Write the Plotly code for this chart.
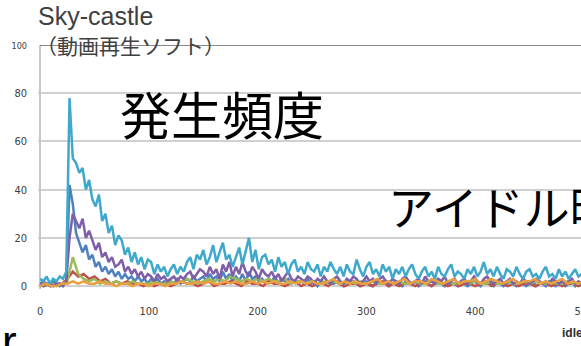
import plotly.graph_objects as go

# idle-time histogram for Sky-castle, one trace per run
x_fine = list(range(0, 511, 3))
x_coarse = list(range(0, 511, 5))

aqua = [
    3, 2, 4, 1, 3, 2, 4, 3, 6, 78,
    53, 51, 47, 49, 40, 44, 36, 33, 38, 27,
    30, 22, 25, 17, 21, 19, 13, 16, 10, 14,
    9, 12, 7, 11, 10, 5, 9, 6, 8, 4,
    7, 9, 5, 8, 6, 10, 12, 7, 13, 11,
    15, 9, 12, 17, 10, 14, 18, 11, 13, 8,
    12, 16, 9, 14, 20, 10, 15, 7, 12, 13,
    9, 11, 6, 12, 8, 10, 5, 9, 11, 6,
    8, 5, 10, 7, 6, 9, 4, 8, 6, 10,
    7, 5, 8, 4, 9, 6, 5, 11, 7, 4,
    8, 10, 5, 7, 4, 9, 6, 8, 3, 7,
    5, 8, 4, 7, 9, 5, 3, 6, 8, 4,
    6, 3, 8, 5, 4, 7, 9, 4, 6, 5,
    3, 7, 5, 8, 4, 6, 10, 5, 7, 4,
    8, 5, 3, 7, 6, 4, 8, 5, 3, 6,
    7, 4, 5, 3, 6, 8, 4, 5, 3, 7,
    4, 6, 3, 5, 7, 4, 5, 3, 6, 4,
    5,
]

purple = [
    1, 0, 1, 1, 0, 1, 1, 0, 2, 20,
    30, 27, 24, 28, 20, 23, 19, 15, 18, 12,
    14, 10, 12, 8, 9, 11, 6, 8, 5, 7,
    4, 6, 3, 5, 4, 2, 5, 3, 4, 2,
    3, 4, 2, 4, 3, 5, 6, 3, 5, 7,
    6, 4, 8, 5, 7, 3, 9, 6, 10, 4,
    8, 5, 10, 6, 4, 8, 6, 3, 7, 5,
    4, 6, 3, 5, 2, 4, 6, 3, 2, 4,
    3, 2, 4, 3, 1, 3, 2, 4, 2, 1,
    3, 4, 2, 1, 3, 2, 4, 3, 1, 2,
    4, 2, 3, 1, 3, 4, 2, 1, 3, 2,
    1, 3, 4, 2, 1, 2, 3, 1, 4, 2,
    2, 1, 3, 2, 4, 1, 2, 3, 1, 2,
    3, 1, 2, 4, 2, 1, 3, 4, 2, 1,
    2, 3, 1, 2, 3, 1, 2, 1, 3, 2,
    1, 2, 3, 2, 1, 2, 1, 3, 2, 1,
    2, 1, 2, 3, 1, 2, 1, 2, 1, 2,
    1,
]

blue = [
    1, 2, 1, 0, 2, 1, 0, 1, 2, 42,
    34, 22, 18, 14, 17, 11, 13, 8, 10, 6,
    8, 5, 7, 4, 6, 3, 5, 3, 4, 2,
    4, 2, 3, 1, 3, 2, 3, 1, 2, 1,
    2, 1, 3, 1, 2, 3, 2, 4, 2, 3,
    4, 2, 5, 3, 4, 2, 6, 3, 5, 2,
    4, 2, 5, 2, 6, 3, 4, 2, 3, 1,
    3, 2, 4, 1, 3, 2, 3, 1, 2, 1,
    2, 1, 3, 1, 2, 0, 2, 1, 2, 1,
    1, 2, 1, 0, 2, 1, 2, 1, 0, 1,
    2, 1, 0, 2, 1, 1, 2, 0, 1, 2,
    1, 0, 2, 1, 1, 2, 0, 1, 2, 1,
    0, 1, 2, 1, 0, 2, 1, 1, 0, 2,
    1, 0, 1, 2, 1, 0, 2, 1, 1, 0,
    2, 1, 0, 1, 2, 1, 0, 1, 1, 0,
    1, 2, 0, 1, 1, 0, 2, 1, 0, 1,
    1, 0, 1, 2, 0, 1, 1, 0, 1, 0,
    1,
]

red = [
    0, 1, 0, 1, 1, 3, 6, 4, 5, 3,
    4, 2, 3, 1, 2, 1, 2, 1, 1, 0,
    1, 0, 1, 1, 0, 1, 2, 1, 1, 0,
    1, 2, 0, 1, 1, 2, 1, 0, 2, 1,
    1, 0, 2, 1, 1, 0, 1, 2, 0, 1,
    0, 1, 1, 0, 2, 1, 0, 1, 1, 0,
    1, 0, 1, 2, 0, 1, 0, 1, 1, 0,
    1, 1, 0, 2, 1, 0, 1, 0, 1, 1,
    0, 1, 2, 0, 1, 1, 0, 1, 0, 1,
    1, 0, 1, 1, 0, 1, 0, 1, 1, 0,
    1, 0, 1,
]

green = [
    0, 0, 1, 0, 1, 2, 12, 5, 3, 2,
    3, 1, 2, 1, 2, 1, 1, 2, 1, 1,
    1, 2, 1, 1, 2, 1, 2, 3, 2, 1,
    2, 3, 2, 3, 2, 4, 3, 2, 3, 2,
    3, 2, 3, 2, 2, 3, 1, 2, 2, 1,
    2, 1, 2, 1, 2, 1, 1, 2, 1, 2,
    1, 2, 1, 1, 2, 1, 2, 1, 1, 2,
    1, 1, 2, 1, 1, 2, 1, 1, 2, 1,
    2, 1, 1, 2, 1, 1, 2, 1, 1, 2,
    1, 2, 1, 1, 2, 1, 1, 2, 1, 1,
    2, 1, 1,
]

orange = [
    0, 1, 0, 0, 1, 1, 2, 1, 2, 1,
    1, 2, 1, 1, 0, 1, 1, 0, 1, 1,
    0, 1, 1, 0, 1, 1, 2, 1, 1, 2,
    1, 2, 1, 1, 2, 1, 2, 1, 1, 2,
    1, 2, 1, 2, 1, 1, 2, 1, 2, 1,
    2, 1, 1, 2, 3, 1, 2, 1, 2, 1,
    1, 2, 3, 1, 2, 1, 2, 3, 1, 2,
    2, 1, 3, 2, 1, 2, 3, 1, 2, 2,
    3, 1, 2, 3, 2, 1, 2, 3, 1, 2,
    2, 3, 1, 2, 1, 2, 3, 1, 2, 1,
    2, 1, 2,
]

y_ticks = [0, 20, 40, 60, 80, 100]
y_tick_text = ["0", "20", "40", "60", "80", "<span style='font-size:9px'>100</span>"]
x_ticks = [0, 100, 200, 300, 400, 500]

series = [
    (x_fine, blue, "#4F81BD"),
    (x_coarse, red, "#C0504D"),
    (x_coarse, green, "#9BBB59"),
    (x_fine, purple, "#7F5FA8"),
    (x_fine, aqua, "#3FA9CC"),
    (x_coarse, orange, "#E8A040"),
]

# the chart runs on past the right edge of the page, which is cut off there
FIG_W, FIG_H = 610, 346
M_L, M_R, M_T, M_B = 38, 0, 45, 57
PLOT_W = FIG_W - M_L - M_R
PLOT_H = FIG_H - M_T - M_B


def px(x):
    return (x - M_L) / PLOT_W


def py(y):
    return (FIG_H - M_B - y) / PLOT_H


fig = go.Figure()
for xs, ys, col in series:
    fig.add_trace(go.Scatter(x=xs, y=ys, mode="lines",
                             line=dict(color=col, width=2.5),
                             showlegend=False, hoverinfo="skip"))

tick_font = dict(family="DejaVu Sans Condensed, Liberation Sans Narrow, Liberation Sans",
                 size=11, color="#404040")

fig.update_layout(
    width=FIG_W, height=FIG_H,
    margin=dict(l=M_L, r=M_R, t=M_T, b=M_B),
    paper_bgcolor="white", plot_bgcolor="white",
    xaxis=dict(range=[-2, 524], tickvals=x_ticks, showgrid=False,
               zeroline=True, zerolinecolor="#c8c8c8", zerolinewidth=1.5,
               showline=False, ticks="", tickfont=tick_font, ticklabelstandoff=14,
               ticklabeloverflow="allow"),
    yaxis=dict(range=[-1.2, 100], tickvals=y_ticks, ticktext=y_tick_text,
               showgrid=True, gridcolor="#d0d0d0", gridwidth=2, zeroline=False,
               showline=False, ticks="", tickfont=tick_font, ticklabelstandoff=10),
)

# darker rule along the top of the value range
fig.add_shape(type="line", xref="paper", yref="y", x0=px(40), x1=1, y0=100, y1=100,
              line=dict(color="#606060", width=1.5))

fig.add_annotation(text="Sky-castle", xref="paper", yref="paper", x=px(36), y=py(16),
                   xanchor="left", yanchor="middle", showarrow=False,
                   font=dict(family="Liberation Sans, Arial", size=25, color="#404040"))
fig.add_annotation(text="（動画再生ソフト）", xref="paper", yref="paper", x=px(34), y=py(45),
                   xanchor="left", yanchor="middle", showarrow=False,
                   font=dict(family="Noto Sans CJK JP", size=21, color="#404040"))
fig.add_annotation(text="発生頻度", xref="paper", yref="paper", x=px(118), y=py(113),
                   xanchor="left", yanchor="middle", showarrow=False,
                   font=dict(family="Noto Sans CJK JP", size=51, color="black"))
fig.add_annotation(text="アイドル時", xref="paper", yref="paper", x=px(386), y=py(204.5),
                   xanchor="left", yanchor="middle", showarrow=False,
                   font=dict(family="Noto Sans CJK JP", size=46, color="black"))
fig.add_annotation(text="idle", xref="paper", yref="paper", x=px(572), y=py(333),
                   xanchor="center", yanchor="middle", showarrow=False,
                   font=dict(family="Liberation Sans Narrow, Liberation Sans", size=12,
                             color="#303030", weight="bold"))
fig.add_annotation(text="r", xref="paper", yref="paper", x=px(0), y=py(341),
                   xanchor="left", yanchor="middle", showarrow=False,
                   font=dict(family="Liberation Sans, Arial", size=44, color="black"))

fig.write_html(
    "out.html",
    post_script="document.documentElement.style.overflow='hidden';"
                "document.body.style.overflow='hidden';",
)
